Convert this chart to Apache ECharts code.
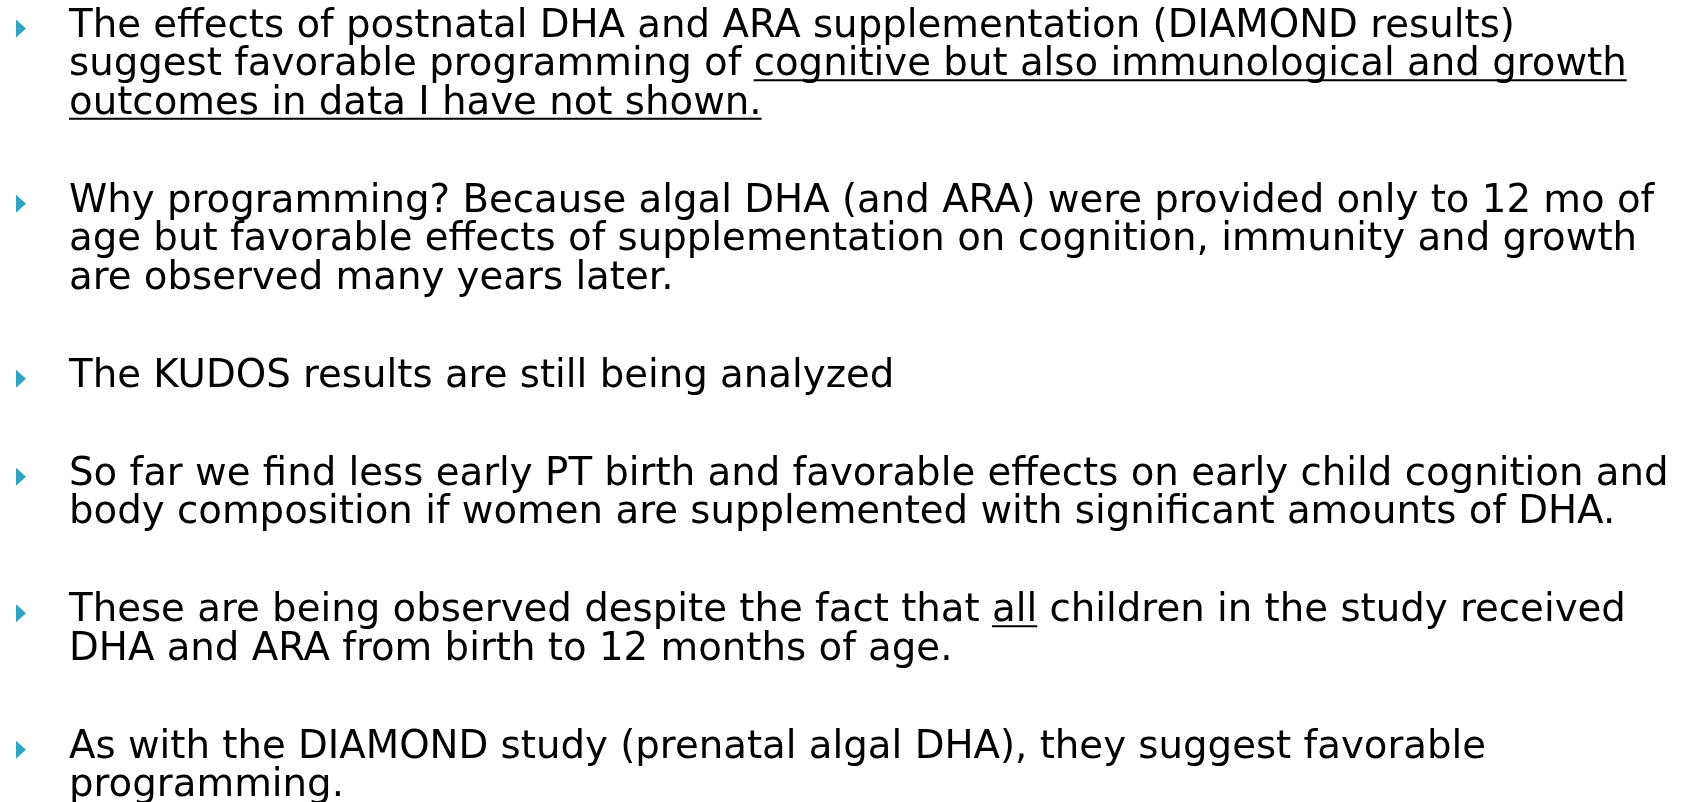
<!DOCTYPE html>
<html>
<head>
  <meta charset="UTF-8">
  <title>Programming slide</title>
  <style>
    body { margin: 0; background: #fff; }
    #main { width: 1684px; height: 802px; }
  </style>
</head>
<body>
  <div id="main"></div>
  <script src="https://cdn.jsdelivr.net/npm/echarts@6/dist/echarts.min.js"></script>
  <script>
    // each bullet is a list of lines; text between __ markers is underlined
    const bullet1 = [
      'The effects of postnatal DHA and ARA supplementation (DIAMOND results)',
      'suggest favorable programming of __cognitive but also immunological and growth__',
      '__outcomes in data I have not shown.__'
    ];
    const bullet2 = [
      'Why programming? Because algal DHA (and ARA) were provided only to 12 mo of',
      'age but favorable effects of supplementation on cognition, immunity and growth',
      'are observed many years later.'
    ];
    const bullet3 = [
      'The KUDOS results are still being analyzed'
    ];
    const bullet4 = [
      'So far we find less early PT birth and favorable effects on early child cognition and',
      'body composition if women are supplemented with significant amounts of DHA.'
    ];
    const bullet5 = [
      'These are being observed despite the fact that __all__ children in the study received',
      'DHA and ARA from birth to 12 months of age.'
    ];
    const bullet6 = [
      'As with the DIAMOND study (prenatal algal DHA), they suggest favorable',
      'programming.'
    ];
    const bullets = [bullet1, bullet2, bullet3, bullet4, bullet5, bullet6];

    const fontSize = 38.7;
    const font = fontSize + 'px "DejaVu Sans"';
    const textX = 69;
    const firstBaseline = 37.6;
    const lineH = 38.6;
    const paraGap = 59.3;
    const bulletColor = '#2fa4c2';

    const ctx = document.createElement('canvas').getContext('2d');
    ctx.font = font;

    const elements = [];
    let baseline = firstBaseline;
    bullets.forEach(lines => {
      elements.push({
        type: 'polygon',
        shape: { points: [[16, baseline - 18], [26, baseline - 9], [16, baseline]] },
        style: { fill: bulletColor }
      });
      lines.forEach(line => {
        let x = textX;
        line.split('__').forEach((seg, i) => {
          if (!seg) return;
          const w = ctx.measureText(seg).width;
          elements.push({
            type: 'text',
            x: x,
            y: baseline - 0.285 * fontSize,
            style: { text: seg, font: font, fill: '#000', align: 'left', verticalAlign: 'middle' }
          });
          if (i % 2 === 1) {
            elements.push({
              type: 'rect',
              shape: { x: x, y: baseline + 3, width: w, height: 2 },
              style: { fill: '#000' }
            });
          }
          x += w;
        });
        baseline += lineH;
      });
      baseline += paraGap;
    });

    const myChart = echarts.init(document.getElementById('main'));
    myChart.setOption({
      backgroundColor: '#fff',
      graphic: { elements: elements }
    });
  </script>
</body>
</html>
